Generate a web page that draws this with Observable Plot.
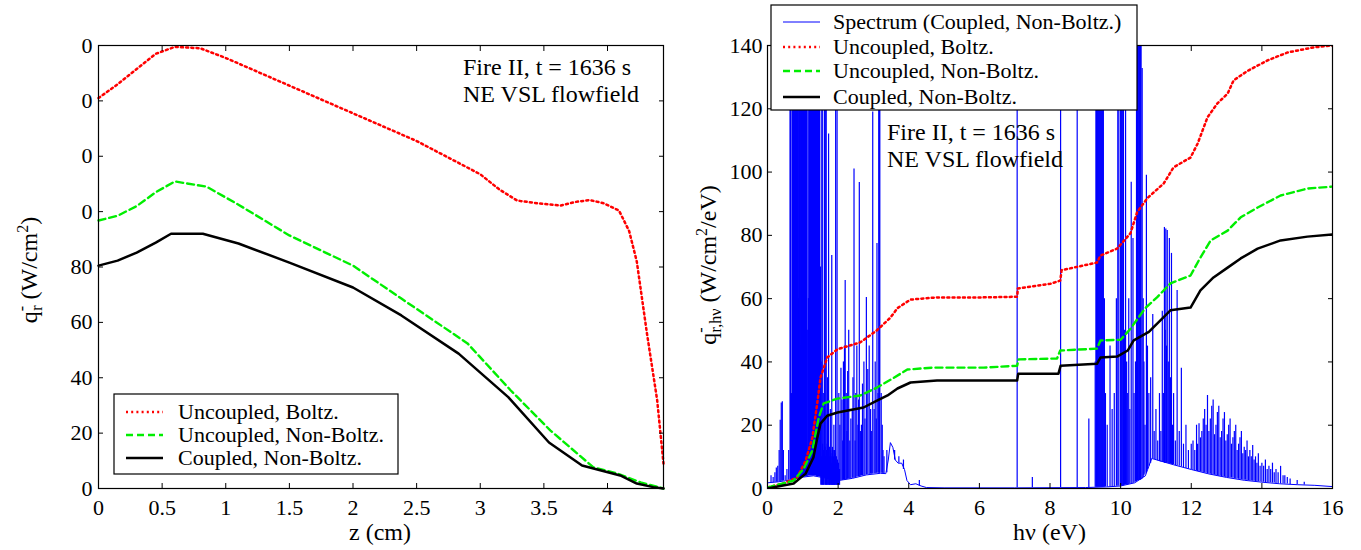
<!DOCTYPE html>
<html><head><meta charset="utf-8">
<script src="https://cdn.jsdelivr.net/npm/d3@7"></script>
<script src="https://cdn.jsdelivr.net/npm/@observablehq/plot@0.6"></script>
<style>
body{margin:0;background:#fff;}
#wrap{display:flex;width:1361px;height:550px;overflow:hidden;}
svg text{font-family:"Liberation Serif","DejaVu Serif",serif !important;}
</style></head><body><div id="wrap"></div>
<script>
const FONT = '"Liberation Serif","DejaVu Serif",serif';

// ---------- Left panel: q_r^- vs z ----------
const zTicks = [0, 0.5, 1, 1.5, 2, 2.5, 3, 3.5, 4];
const qTicks = [0, 20, 40, 60, 80, 100, 120, 140, 160];
const zUB = [0, 0.15, 0.3, 0.45, 0.6, 0.8, 1.0, 1.25, 1.5, 1.75, 2.0, 2.25, 2.5, 2.75, 3.0, 3.15, 3.29, 3.45, 3.63, 3.75, 3.86, 3.97, 4.09, 4.17, 4.23, 4.31, 4.39, 4.44];
const qUB = [141, 146, 151.5, 157, 159.5, 159, 155.5, 150.5, 145.5, 140.5, 135.5, 130.5, 125.5, 119.5, 113.5, 108, 104, 103, 102.2, 103.5, 104.2, 103, 100.4, 93, 82, 56, 32, 9];
const zUNB = [0, 0.15, 0.3, 0.45, 0.6, 0.85, 1.1, 1.5, 2.0, 2.38, 2.9, 3.24, 3.55, 3.89, 4.08, 4.26, 4.44];
const qUNB = [96.8, 98.5, 102, 107, 110.9, 109, 102.5, 91.4, 80.5, 68.6, 52.4, 35.4, 21, 7.6, 5.4, 2.2, 0];
const zCNB = [0, 0.15, 0.3, 0.45, 0.57, 0.82, 1.1, 1.5, 2.0, 2.38, 2.83, 3.22, 3.54, 3.8, 3.95, 4.1, 4.23, 4.36, 4.44];
const qCNB = [80.5, 82.3, 85.2, 88.8, 92, 92, 88.5, 81.6, 72.6, 62.5, 48.7, 33, 16.6, 8.3, 6.5, 4.7, 1.8, 0.5, 0];

// ---------- Right panel: spectral flux vs hν ----------
const eTicks = [0, 2, 4, 6, 8, 10, 12, 14, 16];
const sTicks = [0, 20, 40, 60, 80, 100, 120, 140];
const eUB = [0, 0.45, 0.84, 1.08, 1.27, 1.41, 1.5, 1.69, 1.98, 2.63, 3.1, 3.48, 3.68, 4.05, 4.8, 6.1, 7.07, 7.09, 8.01, 8.29, 8.33, 9.33, 9.43, 9.9, 10.28, 10.47, 10.76, 11.22, 11.5, 11.98, 12.18, 12.46, 12.74, 13.03, 13.2, 13.6, 14.16, 14.73, 15.46, 16];
const sUB = [0.3, 1.6, 3.5, 8.8, 16, 27, 35, 41.4, 44, 46.2, 50, 54, 57, 59.7, 60.4, 60.4, 60.6, 63.2, 64.7, 65.7, 69, 71.4, 73.6, 75.8, 80.7, 87.4, 91.8, 96.4, 101.5, 104.6, 109, 117.3, 121.7, 124.8, 129, 132, 135.3, 137.8, 139.4, 140];
const eUNB = [0, 0.74, 1.03, 1.27, 1.45, 1.59, 1.98, 2.63, 3.1, 3.58, 3.96, 4.7, 6.12, 7.07, 7.11, 8.2, 8.29, 9.33, 9.43, 10.0, 10.28, 10.47, 10.7, 11.03, 11.41, 11.98, 12.26, 12.55, 13.03, 13.4, 13.88, 14.53, 15.29, 16];
const sUNB = [0.3, 2.5, 6.3, 12, 22.4, 26.9, 28.4, 29.4, 31.9, 35, 37.6, 38.2, 38.2, 38.8, 40.8, 41.1, 43.6, 44.2, 46.8, 47, 50.5, 53.5, 57, 60.4, 64.8, 67.3, 73, 78.4, 81.5, 85.7, 88.8, 92.6, 94.8, 95.4];
const eCNB = [0, 0.74, 1.08, 1.3, 1.41, 1.5, 1.69, 1.98, 2.72, 3.1, 3.4, 3.68, 4.05, 4.8, 6.12, 7.07, 7.1, 8.24, 8.3, 9.33, 9.43, 9.9, 10.2, 10.37, 10.8, 11.41, 11.98, 12.26, 12.63, 13.03, 13.4, 13.88, 14.53, 15.29, 16];
const sCNB = [0, 1.6, 4.7, 9.8, 16, 20.5, 23, 24, 25.6, 27.8, 29.4, 31.6, 33.5, 34.1, 34.1, 34.1, 36.3, 36.3, 38.8, 39.4, 41.4, 41.7, 43.6, 46.8, 49.5, 56.3, 57.2, 62.6, 66.7, 69.8, 72.7, 75.8, 78.4, 79.6, 80.3];

// spectrum continuum (hν, value)
const specE = [0, 0.3, 0.6, 1.0, 1.3, 1.6, 2.0, 2.4, 2.8, 3.2, 3.35, 3.42, 3.48, 3.55, 3.62, 3.7, 3.8, 3.88, 3.95, 4.05, 4.2, 4.35, 4.5, 5, 7, 9, 9.6, 10, 10.4, 10.7, 10.88, 11.5, 12, 12.5, 13, 13.5, 14, 14.5, 15, 15.5, 16];
const specV = [1.8, 2.1, 2.6, 3.6, 4, 3.4, 2.5, 3.2, 4.3, 4.8, 4.7, 9, 14.5, 13, 9, 8, 8, 6, 2.5, 1.2, 1.5, 0.8, 0.3, 0.2, 0.2, 0.3, 0.5, 0.8, 1.8, 4, 9.5, 7.5, 6, 4.6, 3.5, 2.6, 2, 1.5, 1.2, 1, 0.6];
// spectrum lines: [hν, peak, floor]  (peaks above 140 run off the top of the frame)
const spectrumLines = [
[0.10,4,1.8],[0.16,3.5,1.8],[0.21,5,2],[0.25,6.5,2],[0.29,7,2],[0.33,12,2.2],[0.36,21.6,2.2],[0.39,27,2.3],[0.42,27.4,2.3],[0.45,12,2.4],[0.50,4,2.5],[0.55,6,2.5],[0.60,12,2.6],
[0.64,150,2.8],[0.65,150,2.8],[0.66,150,2.8],[0.68,30,2.8],[0.70,150,3],[0.71,150,3],[0.72,20,3],[0.73,150,3],[0.74,150,3],[0.75,150,3],[0.76,150,3],[0.77,150,3],[0.78,150,3],[0.79,150,3],[0.80,150,3],[0.81,150,3],[0.82,150,3.2],[0.83,150,3.2],[0.84,150,3.2],[0.85,150,3.2],[0.86,150,3.2],[0.87,150,3.2],[0.88,60,3.3],[0.89,150,3.3],[0.90,150,3.3],[0.91,150,3.3],[0.92,150,3.4],[0.93,150,3.4],[0.94,45,3.4],[0.95,150,3.4],[0.96,150,3.5],[0.97,150,3.5],[0.98,150,3.5],[0.99,150,3.5],[1.00,150,3.6],[1.01,150,3.6],[1.02,150,3.6],[1.03,150,3.6],[1.04,150,3.7],[1.05,150,3.7],[1.06,150,3.7],[1.07,150,3.7],[1.08,150,3.8],[1.09,150,3.8],[1.10,150,3.8],[1.11,150,3.8],[1.12,150,3.9],[1.14,50,3.9],[1.16,60,4],[1.17,150,4],[1.18,150,4],[1.19,150,4],[1.20,150,4],[1.21,150,4],[1.22,150,4],[1.23,150,4],[1.24,150,4],[1.25,150,4],[1.26,150,4],[1.27,150,4],[1.28,150,4],[1.29,150,4],[1.30,150,4],[1.31,150,4],[1.32,150,4],[1.33,150,4],[1.34,150,4],[1.35,150,4],[1.36,150,4],[1.37,150,4],[1.38,150,3.9],[1.39,150,3.9],[1.40,150,3.9],[1.41,150,3.9],[1.42,150,3.8],[1.43,150,3.8],[1.44,150,3.8],[1.45,150,3.8],[1.46,150,3.7],[1.47,150,3.7],[1.48,150,3.7],[1.50,70,3.6],[1.52,40,3.6],[1.54,150,3.5],[1.55,150,3.5],[1.58,30,3.4],[1.61,150,3.3],[1.62,150,3.3],[1.65,150,3.2],[1.66,150,3.2],[1.70,35,3.1],[1.73,112,3],[1.78,25,3],[1.82,73.6,2.9],[1.88,20,2.8],[1.93,119.5,2.7],[1.97,150,2.6],
[1.51,12,1],[1.53,10,1],[1.56,14,1],[1.57,9,1],[1.59,12,1],[1.60,8,1],[1.63,13,1],[1.64,10,1],[1.67,12,1],[1.68,9,1],[1.69,14,1],[1.71,11,1],[1.72,8,1],[1.74,12,1],[1.75,10,1],[1.76,13,1],[1.77,9,1],[1.79,12,1],[1.80,10,1],[1.81,8,1],[1.83,11,1],[1.84,13,1],[1.85,9,1],[1.86,12,1],[1.87,10,1],[1.89,8,1],[1.90,12,1],[1.91,9,1],[1.92,11,1],[1.94,8,1],[1.95,10,1],[1.96,7,1],[1.98,9,1],[1.99,6,1],[2.01,8,1],[2.04,6,1],
[2.02,30,2.5],[2.05,20,2.5],[2.08,38,2.6],[2.11,28,2.6],[2.13,15,2.6],[2.15,40,2.7],[2.18,45,2.7],[2.20,65.7,2.8],[2.23,30,2.8],[2.25,18,2.9],[2.27,37,2.9],[2.30,50,3],[2.33,15,3],[2.36,22,3.1],[2.40,25,3.2],[2.42,35,3.2],[2.45,101,3.3],[2.48,15,3.4],[2.50,30,3.5],[2.53,45,3.6],[2.56,20,3.7],[2.58,28,3.7],[2.60,96.7,3.8],[2.63,18,3.9],[2.66,20,4],[2.69,33,4],[2.73,40,4.1],[2.76,22,4.2],[2.80,60.4,4.3],[2.84,37.6,4.4],[2.88,45,4.4],[2.92,25,4.5],[2.95,18,4.5],[2.98,119,4.6],[3.02,25,4.7],[3.05,40,4.7],[3.08,22,4.8],[3.10,77.4,4.8],[3.13,30,4.8],[3.15,150,4.8],[3.17,150,4.8],[3.18,150,4.8],[3.22,30,4.8],[3.25,20,4.8],[3.27,12,4.7],[3.30,10,4.7],[3.38,12,5],[3.60,12,9],[3.72,10,8],[3.85,9,6],[4.30,2.5,0.8],
[7.07,150,0.2],[7.50,3.5,0.2],[8.30,150,0.3],[8.77,150,0.3],[9.10,22,0.3],
[9.28,40,0.4],[9.30,150,0.4],[9.32,150,0.4],[9.33,150,0.4],[9.35,150,0.4],[9.36,150,0.4],[9.38,150,0.4],[9.39,150,0.4],[9.41,150,0.4],[9.42,150,0.4],[9.44,150,0.4],[9.45,150,0.4],[9.47,150,0.4],[9.48,150,0.4],[9.50,150,0.4],[9.51,150,0.4],[9.54,60,0.4],[9.57,30,0.5],[9.62,20,0.5],[9.70,45,0.5],[9.76,25,0.6],[9.82,30,0.6],[9.88,60,0.7],[9.92,150,0.7],
[9.95,150,0.8],[10.00,150,0.8],[10.02,150,0.8],[10.04,150,0.9],[10.06,150,0.9],[10.08,150,0.9],[10.11,50,1],[10.14,150,1.1],[10.17,40,1.1],[10.20,30,1.2],[10.23,60,1.3],[10.26,25,1.4],[10.30,96.8,1.5],[10.35,79,1.6],[10.38,30,1.8],[10.42,40,2],[10.45,150,2.2],
[10.48,150,2.4],[10.50,150,2.5],[10.52,150,2.5],[10.53,150,2.6],[10.55,150,2.6],[10.56,150,2.7],[10.58,150,2.8],[10.61,132.7,3],[10.64,60,3.5],[10.66,40,4],[10.69,20,4.5],[10.73,99,5],[10.76,45,6],[10.80,30,7],[10.85,35,8],[10.91,55,9.5],[10.95,18,9.2],[11.00,25,9],[11.05,15,8.8],[11.10,30,8.5],[11.14,18,8.4],[11.18,56,8.3],[11.21,30,8.2],[11.24,82.5,8],[11.26,50,8],[11.28,82,8],[11.30,45,8],[11.32,81.5,8],[11.35,40,7.9],[11.38,79,7.8],[11.41,35,7.7],[11.44,74.3,7.6],[11.47,20,7.5],[11.50,30,7.5],[11.55,15,7.3],[11.60,62.6,7.2],[11.66,18,7],[11.72,38,6.8],[11.78,14,6.6],[11.85,20,6.3],[11.92,12,6.1],
[12.00,14,5.9],[12.05,15,5.8],[12.10,12,5.6],[12.15,20,5.5],[12.18,14,5.4],[12.22,20.5,5.3],[12.26,16,5.2],[12.30,18,5.1],[12.34,22,5],[12.38,25,4.9],[12.42,20,4.8],[12.46,29.4,4.7],[12.50,18,4.6],[12.54,22,4.5],[12.58,26,4.4],[12.62,28,4.3],[12.66,17,4.2],[12.70,20,4.1],[12.74,24,4],[12.78,26,3.9],[12.82,16,3.9],[12.86,18,3.8],[12.90,22,3.7],[12.94,24,3.6],[12.98,15,3.5],[13.02,17,3.5],[13.06,20,3.4],[13.10,22,3.3],[13.14,14,3.3],[13.18,16,3.2],[13.22,18,3.1],[13.26,20,3],[13.30,12,3],[13.34,14,2.9],[13.38,16,2.8],[13.42,18,2.8],[13.46,11,2.7],[13.50,13,2.6],[13.54,12,2.6],[13.58,15,2.5],[13.62,10,2.5],[13.66,12,2.4],[13.70,10,2.4],[13.74,13.6,2.3],[13.78,9,2.3],[13.82,10,2.2],[13.86,8,2.2],[13.90,11,2.1],[13.95,7,2.1],[14.00,8,2],[14.05,7,2],[14.10,9,1.9],[14.15,6,1.9],[14.20,7,1.8],[14.25,6,1.8],[14.30,8,1.7],[14.35,5,1.7],[14.40,6,1.6],[14.46,5,1.6],[14.53,7,1.5],[14.60,4,1.5],[14.65,4,1.4],[14.72,3.5,1.4],[14.80,3,1.3],[15.00,2.5,1.2],[15.20,2,1.1]
];

const seriesNames = ["Uncoupled, Boltz.", "Uncoupled, Non-Boltz.", "Coupled, Non-Boltz."];
const spectrumName = "Spectrum (Coupled, Non-Boltz.)";
const noteLines = ["Fire II, t = 1636 s", "NE VSL flowfield"];

const RED = {stroke: "#ff0000", strokeWidth: 2.5, strokeDasharray: "2,3.2"};
const GREEN = {stroke: "#00ee00", strokeWidth: 2.4, strokeDasharray: "7,4"};
const BLACK = {stroke: "#000000", strokeWidth: 2.5};
const styles = [RED, GREEN, BLACK];

const rows = (xs, ys) => xs.map((x, i) => ({x, y: ys[i]}));

function frameAxes(xTicks, yTicks, yFmt, xPad, yPad) {
  return [
    Plot.frame({stroke: "black", strokeWidth: 1.2}),
    Plot.axisX({anchor: "bottom", ticks: xTicks, tickSize: -5, tickPadding: xPad, label: null, tickFormat: d => String(d)}),
    Plot.axisX({anchor: "top", ticks: xTicks, tickSize: -5, label: null, tickFormat: () => ""}),
    Plot.axisY({anchor: "left", ticks: yTicks, tickSize: -5, tickPadding: yPad, label: null, tickFormat: yFmt}),
    Plot.axisY({anchor: "right", ticks: yTicks, tickSize: -5, label: null, tickFormat: () => ""})
  ];
}

function addText(svg, x, y, rotate, anchor, size, parts) {
  const t = d3.select(svg).append("text")
    .attr("transform", `translate(${x},${y}) rotate(${rotate})`)
    .attr("text-anchor", anchor).attr("font-size", size)
    .attr("font-family", FONT).attr("fill", "black");
  for (const p of parts) {
    const s = t.append("tspan").text(p.t);
    if (p.dx) s.attr("dx", p.dx);
    if (p.dy) s.attr("dy", p.dy);
    if (p.size) s.attr("font-size", p.size);
  }
}

function addLegend(svg, box, lineX1, lineX2, textX, rowY, items) {
  const g = d3.select(svg).append("g");
  g.append("rect").attr("x", box[0]).attr("y", box[1]).attr("width", box[2]).attr("height", box[3])
    .attr("fill", "white").attr("stroke", "black").attr("stroke-width", 1.2);
  items.forEach((it, i) => {
    const y = rowY[i];
    g.append("line").attr("x1", lineX1).attr("x2", lineX2).attr("y1", y).attr("y2", y)
      .attr("stroke", it.style.stroke).attr("stroke-width", it.style.strokeWidth)
      .attr("stroke-dasharray", it.style.strokeDasharray || null);
    g.append("text").attr("x", textX).attr("y", y + 7).attr("font-size", 22)
      .attr("text-anchor", "start")
      .attr("font-family", FONT).attr("fill", "black").text(it.name);
  });
}

// ---------- Left plot ----------
const leftSeries = [rows(zUB, qUB), rows(zUNB, qUNB), rows(zCNB, qCNB)];
const left = Plot.plot({
  width: 680, height: 550,
  marginLeft: 98, marginRight: 17, marginTop: 45, marginBottom: 62,
  style: {fontFamily: FONT, fontSize: "22px", color: "black", background: "white"},
  x: {domain: [0, 4.44]},
  y: {domain: [0, 160]},
  marks: [
    ...leftSeries.map((d, i) => Plot.line(d, {x: "x", y: "y", ...styles[i]})),
    ...frameAxes(zTicks, qTicks, d => d >= 100 ? String(d).slice(-1) : String(d), 16, 11)
  ]
});
addText(left, 380, 540, 0, "middle", 24, [{t: "z (cm)"}]);
addText(left, 37, 270, -90, "middle", 24, [
  {t: "q"}, {t: "-", dy: -10, size: 16}, {t: "r", dx: -5, dy: 15, size: 16},
  {t: " (W/cm", dy: -5, size: 24}, {t: "2", dy: -9, size: 16}, {t: ")", dy: 9, size: 24}
]);
noteLines.forEach((s, i) => addText(left, 463, 75 + 27 * i, 0, "start", 24, [{t: s}]));
addLegend(left, [114, 394, 284, 80], 126, 163, 178, [412, 435, 458],
  seriesNames.map((n, i) => ({name: n, style: styles[i]})));

// ---------- Right plot ----------
const rightSeries = [rows(eUB, sUB), rows(eUNB, sUNB), rows(eCNB, sCNB)];
const SPEC = {stroke: "#0000ff", strokeWidth: 1.2};
const right = Plot.plot({
  width: 681, height: 550,
  marginLeft: 87, marginRight: 29, marginTop: 45, marginBottom: 62,
  style: {fontFamily: FONT, fontSize: "22px", color: "black", background: "white"},
  x: {domain: [0, 16]},
  y: {domain: [0, 140]},
  marks: [
    Plot.ruleX(spectrumLines, {x: d => d[0], y1: d => d[2], y2: d => d[1], ...SPEC, clip: true}),
    Plot.line(rows(specE, specV), {x: "x", y: "y", stroke: "#0000ff", strokeWidth: 1, clip: true}),
    ...rightSeries.map((d, i) => Plot.line(d, {x: "x", y: "y", ...styles[i], clip: true})),
    ...frameAxes(eTicks, sTicks, d => String(d), 16, 10)
  ]
});
addText(right, 369.5, 540, 0, "middle", 24, [{t: "hν (eV)"}]);
addText(right, 36, 265, -90, "middle", 24, [
  {t: "q"}, {t: "-", dy: -10, size: 16}, {t: "r,hν", dx: -5, dy: 15, size: 16},
  {t: " (W/cm", dy: -5, size: 24}, {t: "2", dy: -9, size: 16}, {t: "/eV)", dy: 9, size: 24}
]);
noteLines.forEach((s, i) => addText(right, 207, 140 + 27 * i, 0, "start", 24, [{t: s}]));
addLegend(right, [91, 5, 366, 105], 103, 140, 153, [22, 47, 71, 97],
  [{name: spectrumName, style: {stroke: "#0000ff", strokeWidth: 1}}, ...seriesNames.map((n, i) => ({name: n, style: styles[i]}))]);

document.getElementById("wrap").append(left, right);
</script>
</body></html>
